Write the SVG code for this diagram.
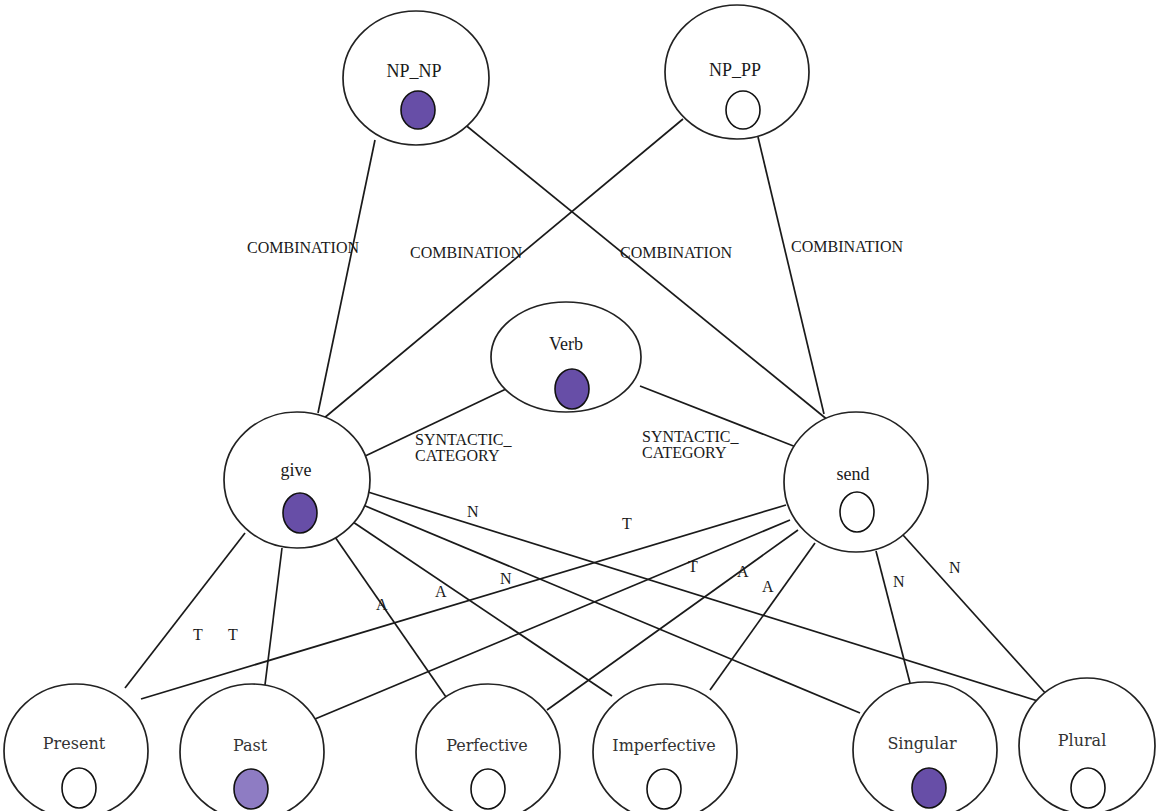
<svg xmlns="http://www.w3.org/2000/svg" width="1157" height="811" viewBox="0 0 1157 811">
<style>
.n ellipse.o{fill:#fff;stroke:#222;stroke-width:1.7}
.dot{stroke:#111;stroke-width:1.6}
.on{fill:#674ea7}
.lt{fill:#8e7cc3}
.off{fill:#fff}
.t{font-family:"Liberation Serif",serif;font-size:18px;fill:#1a1a1a;text-anchor:middle}
.b{font-family:"DejaVu Serif",serif;font-size:16px;fill:#333;text-anchor:middle}
.e line{stroke:#1a1a1a;stroke-width:1.7}
.l{font-family:"Liberation Serif",serif;font-size:16px;fill:#1a1a1a}
</style>
<rect width="1157" height="811" fill="#fff"/>
<g id="connectors" class="e">
<line x1="375" y1="140" x2="318" y2="413"/>
<line x1="463" y1="123" x2="829" y2="421"/>
<line x1="683" y1="119" x2="323" y2="419"/>
<line x1="758" y1="137" x2="824" y2="414"/>
<line x1="506" y1="389" x2="361" y2="458"/>
<line x1="640" y1="386" x2="796" y2="447"/>
<line x1="245" y1="533" x2="125" y2="688"/>
<line x1="282" y1="548" x2="265" y2="685"/>
<line x1="335" y1="537" x2="446" y2="697"/>
<line x1="353" y1="522" x2="612" y2="696"/>
<line x1="363" y1="505" x2="860" y2="713"/>
<line x1="368" y1="492" x2="1041" y2="702"/>
<line x1="786" y1="505" x2="141" y2="699"/>
<line x1="790" y1="520" x2="315" y2="719"/>
<line x1="798" y1="530" x2="547" y2="710"/>
<line x1="815" y1="543" x2="710" y2="690"/>
<line x1="876" y1="551" x2="910" y2="683"/>
<line x1="903" y1="535" x2="1047" y2="695"/>
</g>
<g id="edge-labels" class="l">
<text x="247" y="253">COMBINATION</text>
<text x="410" y="258">COMBINATION</text>
<text x="620" y="258">COMBINATION</text>
<text x="791" y="252">COMBINATION</text>
<text x="415" y="445">SYNTACTIC_</text>
<text x="415" y="461">CATEGORY</text>
<text x="642" y="442">SYNTACTIC_</text>
<text x="642" y="458">CATEGORY</text>
<text x="193" y="640">T</text>
<text x="228" y="640">T</text>
<text x="376" y="610">A</text>
<text x="435" y="597">A</text>
<text x="467" y="517">N</text>
<text x="500" y="584">N</text>
<text x="622" y="529">T</text>
<text x="688" y="572">T</text>
<text x="737" y="577">A</text>
<text x="762" y="592">A</text>
<text x="893" y="587">N</text>
<text x="949" y="573">N</text>
</g>
<g id="NP_NP" class="n"><ellipse class="o" cx="416" cy="78" rx="73" ry="67"/><text class="t" x="414" y="77">NP_NP</text><ellipse class="dot on" cx="418" cy="110" rx="17" ry="19"/></g>
<g id="NP_PP" class="n"><ellipse class="o" cx="737" cy="72" rx="72" ry="67"/><text class="t" x="735" y="76">NP_PP</text><ellipse class="dot off" cx="743" cy="110" rx="17" ry="19"/></g>
<g id="Verb" class="n"><ellipse class="o" cx="566" cy="357" rx="75" ry="55"/><text class="t" x="566" y="350">Verb</text><ellipse class="dot on" cx="572" cy="389" rx="17" ry="20"/></g>
<g id="give" class="n"><ellipse class="o" cx="297" cy="480" rx="73" ry="68"/><text class="t" x="296" y="476">give</text><ellipse class="dot on" cx="300" cy="513" rx="17" ry="20"/></g>
<g id="send" class="n"><ellipse class="o" cx="856" cy="482" rx="72" ry="70"/><text class="t" x="853" y="480">send</text><ellipse class="dot off" cx="857" cy="512" rx="17" ry="20"/></g>
<g id="Present" class="n"><ellipse class="o" cx="76" cy="751" rx="72" ry="67"/><text class="b" x="74" y="749">Present</text><ellipse class="dot off" cx="79" cy="788" rx="17" ry="20"/></g>
<g id="Past" class="n"><ellipse class="o" cx="252" cy="752" rx="72" ry="68"/><text class="b" x="250" y="751">Past</text><ellipse class="dot lt" cx="251" cy="789" rx="17" ry="20"/></g>
<g id="Perfective" class="n"><ellipse class="o" cx="488" cy="752" rx="72" ry="68"/><text class="b" x="487" y="751">Perfective</text><ellipse class="dot off" cx="488" cy="789" rx="17" ry="20"/></g>
<g id="Imperfective" class="n"><ellipse class="o" cx="665" cy="752" rx="72" ry="68"/><text class="b" x="664" y="751">Imperfective</text><ellipse class="dot off" cx="664" cy="789" rx="17" ry="20"/></g>
<g id="Singular" class="n"><ellipse class="o" cx="925" cy="750" rx="72" ry="68"/><text class="b" x="922" y="749">Singular</text><ellipse class="dot on" cx="929" cy="788" rx="17" ry="20"/></g>
<g id="Plural" class="n"><ellipse class="o" cx="1087" cy="746" rx="68" ry="68"/><text class="b" x="1082" y="746">Plural</text><ellipse class="dot off" cx="1088" cy="788" rx="17" ry="20"/></g>
</svg>
